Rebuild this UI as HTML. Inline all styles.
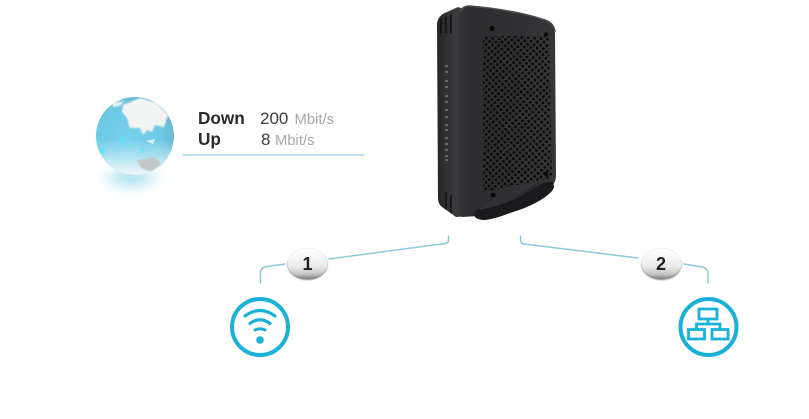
<!DOCTYPE html>
<html>
<head>
<meta charset="utf-8">
<style>
html,body{margin:0;padding:0;background:#fff;width:809px;height:419px;overflow:hidden}
svg{display:block}
text{font-family:"Liberation Sans",sans-serif}
</style>
</head>
<body>
<svg width="809" height="419" viewBox="0 0 809 419" xmlns="http://www.w3.org/2000/svg">
<defs>
  <radialGradient id="globe" cx="0.42" cy="0.55" r="0.62">
    <stop offset="0" stop-color="#78d2ea"/>
    <stop offset="0.7" stop-color="#6cc9e5"/>
    <stop offset="1" stop-color="#6eb4ca"/>
  </radialGradient>
  <linearGradient id="globeLow" x1="0" y1="0" x2="0" y2="1">
    <stop offset="0" stop-color="#fff" stop-opacity="0"/>
    <stop offset="0.6" stop-color="#fff" stop-opacity="0.6"/>
    <stop offset="1" stop-color="#fff" stop-opacity="1"/>
  </linearGradient>
  <radialGradient id="shadow" cx="0.5" cy="0.5" r="0.5">
    <stop offset="0" stop-color="#7fd0e6" stop-opacity="0.8"/>
    <stop offset="0.6" stop-color="#a8e0ee" stop-opacity="0.45"/>
    <stop offset="1" stop-color="#cfeef6" stop-opacity="0"/>
  </radialGradient>
  <linearGradient id="front" x1="0" y1="0" x2="1" y2="0">
    <stop offset="0" stop-color="#38383a"/>
    <stop offset="0.12" stop-color="#2c2c2e"/>
    <stop offset="1" stop-color="#363638"/>
  </linearGradient>
  <linearGradient id="side" x1="0" y1="0" x2="1" y2="0">
    <stop offset="0" stop-color="#252527"/>
    <stop offset="0.6" stop-color="#3e3e40"/>
    <stop offset="1" stop-color="#2a2a2c"/>
  </linearGradient>
  <linearGradient id="badge" x1="0" y1="0" x2="0" y2="1">
    <stop offset="0" stop-color="#ffffff"/>
    <stop offset="0.6" stop-color="#eaeaea"/>
    <stop offset="0.85" stop-color="#c6c6c6"/>
    <stop offset="1" stop-color="#868686"/>
  </linearGradient>
  <pattern id="holes" width="6.400" height="6.400" patternUnits="userSpaceOnUse" patternTransform="translate(482 33) rotate(4)">
    <circle cx="1.600" cy="1.600" r="1.350" fill="#070708"/>
    <circle cx="4.800" cy="4.800" r="1.350" fill="#070708"/>
  </pattern>
  <clipPath id="gclip"><circle cx="135" cy="136" r="39"/></clipPath>
  <filter id="b1" x="-20%" y="-20%" width="140%" height="140%"><feGaussianBlur stdDeviation="0.9"/></filter>
  <filter id="b2" x="-30%" y="-30%" width="160%" height="160%"><feGaussianBlur stdDeviation="1.500"/></filter>
  <filter id="b3" x="-30%" y="-60%" width="160%" height="220%"><feGaussianBlur stdDeviation="4.500"/></filter>
</defs>

<!-- Globe -->
<ellipse cx="131" cy="178" rx="35" ry="15" fill="url(#shadow)" filter="url(#b3)"/>
<circle cx="135" cy="136" r="39" fill="url(#globe)"/>
<g clip-path="url(#gclip)">
  <path d="M123 105 L140 98 L157 103 L168 115 L164 127 L155 125 L152 132 L147 130 L143 135 L140 128 L130 128 L127 118 L122 112 Z" fill="#f2f4f4" filter="url(#b1)"/>
  <path d="M112 103 L124 101 L120 106 L113 107 Z" fill="#e4f2f6" filter="url(#b1)"/>
  <path d="M146 141 L155 139 L153 144 Z" fill="#dff0f5"/>
  <rect x="94" y="140" width="84" height="38" fill="url(#globeLow)"/>
  <path d="M137 160 L155 157 L161 165 L150 172 L140 167 Z" fill="#c4c7c9" filter="url(#b1)"/>
  <circle cx="102" cy="151" r="3" fill="#5be6f0" filter="url(#b1)"/>
  <circle cx="122" cy="139" r="2.200" fill="#5be6f0" filter="url(#b1)"/>
  <circle cx="142" cy="150" r="2.200" fill="#5be6f0" filter="url(#b1)"/>
</g>

<!-- Speed text -->
<text x="198" y="124" font-size="17.200" font-weight="700" fill="#2b2b2b">Down</text>
<text x="198" y="145" font-size="17.200" font-weight="700" fill="#2b2b2b">Up</text>
<text x="260" y="124" font-size="17" fill="#3c3c3c">200</text>
<text x="294.500" y="124" font-size="14.800" fill="#a8a8a8">Mbit/s</text>
<text x="261" y="145" font-size="17" fill="#3c3c3c">8</text>
<text x="275" y="145" font-size="14.800" fill="#a8a8a8">Mbit/s</text>
<line x1="183" y1="155" x2="364" y2="155" stroke="#a5d6e6" stroke-width="1.600"/>

<!-- Device -->
<path d="M437 24 Q438 15 447 12 L458 7 L472 12 L472 216 L456 217 L442 207 Q438 204 438 198 Z" fill="url(#side)"/>
<path d="M458 16 Q460 6 470 6 Q515 10 545 20 Q554 23 555 32 L556 175 Q556 182 552 186 L500 210 L478 216 L462 217 Q458 216 458 210 Z" fill="url(#front)"/>
<path d="M460 12 Q462 6 470 6 Q515 10 545 20 Q554 23 555 32" fill="none" stroke="#4c4c4e" stroke-width="1.500"/>
<!-- vents -->
<g stroke="#0e0e0f" stroke-width="1.400" fill="none">
  <path d="M441 19 V33 M446 17 V33 M451 14 V34"/>
  <path d="M446 192 V209 M451 195 V213"/>
</g>
<!-- LEDs -->
<g stroke="#bdbdbd" stroke-width="1" opacity="0.8">
  <path d="M445 66 h3 M445 72 h3 M445 81 h3 M445 87 h3 M445 96 h3 M445 102 h3 M445 110 h3 M445 117 h3 M445 125 h3 M445 130 h3 M445 138 h3 M445 144 h3 M445 150 h3 M445 156 h3 M445 160 h3"/>
</g>
<!-- holes -->
<path d="M483 36 L549 36 L552 178 L483 192 Z" fill="url(#holes)"/>
<circle cx="492" cy="28.500" r="2.600" fill="#060607"/>
<circle cx="546" cy="34.500" r="2" fill="#060607"/>
<circle cx="546" cy="174" r="2" fill="#060607"/>
<circle cx="493" cy="195" r="2.400" fill="#060607"/>
<!-- stand -->
<path d="M478 209 Q510 203 533 186 Q545 179 552 182 Q556 186 552 191 Q540 204 510 213 Q492 220 483 220 Q474 219 474 214 Q475 210 478 209 Z" fill="#1b1b1d"/>
<path d="M480 209 Q512 203 534 187 Q545 180 551 182" fill="none" stroke="#3a3a3c" stroke-width="1"/>

<!-- Connectors -->
<g fill="none" stroke="#8cc8dc" stroke-width="1.500" stroke-linecap="round">
  <path d="M448.500 236 V240 Q448.500 243 445 243.500 L329 259"/>
  <path d="M285 264 L267 266.500 Q260.500 267.500 260.500 273 V283"/>
  <path d="M520.500 236 V240 Q520.500 243.500 524 244 L638 258"/>
  <path d="M684 264 L702 267 Q708 268 708 274 V283"/>
</g>

<!-- Badges -->
<ellipse cx="307.500" cy="264.500" rx="20" ry="15.500" fill="#7f7f7f" filter="url(#b1)"/>
<ellipse cx="307.500" cy="263.500" rx="20" ry="15" fill="url(#badge)"/>
<text x="307.500" y="270" font-size="18" font-weight="700" fill="#222" text-anchor="middle">1</text>
<ellipse cx="661.500" cy="264.500" rx="20" ry="15.500" fill="#7f7f7f" filter="url(#b1)"/>
<ellipse cx="661.500" cy="263.500" rx="20" ry="15" fill="url(#badge)"/>
<text x="661" y="270" font-size="18" font-weight="700" fill="#222" text-anchor="middle">2</text>

<!-- Wifi icon -->
<g fill="none" stroke="#1ab1d9" stroke-linecap="round">
  <circle cx="260" cy="327" r="28" stroke-width="4"/>
  <path d="M245 316 Q260 305 275 316" stroke-width="3.200"/>
  <path d="M250 323.500 Q260 316 270 323.500" stroke-width="3.200"/>
  <path d="M255 330 Q260 327.500 265 330" stroke-width="3"/>
</g>
<circle cx="260" cy="340" r="3.800" fill="#1ab1d9"/>

<!-- Network icon -->
<g fill="none" stroke="#1ab1d9">
  <circle cx="708.500" cy="327" r="28" stroke-width="4"/>
  <g stroke-width="2.800">
    <rect x="699" y="309" width="18" height="10"/>
    <rect x="688.500" y="329.500" width="16" height="9.500"/>
    <rect x="712" y="329.500" width="16" height="9.500"/>
    <path d="M708 319 V324 M696.500 329.500 V324 H720 V329.500"/>
  </g>
</g>
</svg>
</body>
</html>
